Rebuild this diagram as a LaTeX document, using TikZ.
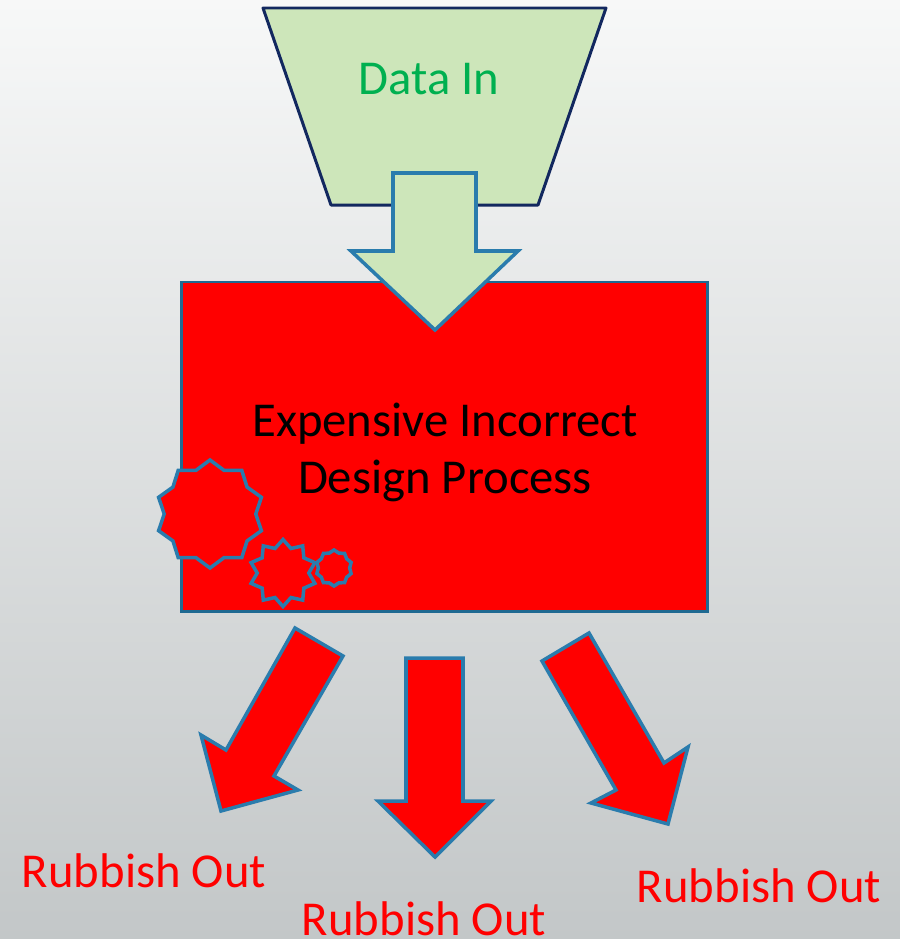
\documentclass[tikz,border=0pt]{standalone}
\usepackage{fontspec}
\setmainfont{Carlito}
\usepackage{tikz}
\usetikzlibrary{shapes.geometric}
\definecolor{leafgreen}{HTML}{CDE6BA}
\definecolor{navyline}{HTML}{12285F}
\definecolor{blueline}{HTML}{2A7CAD}
\definecolor{boxline}{HTML}{1F6A92}
\definecolor{datagreen}{HTML}{00B050}
\definecolor{backtop}{HTML}{F7F8F8}
\definecolor{backmid}{HTML}{EDEEEE}
\definecolor{backlow}{HTML}{C3C7C8}
\tikzset{
  blockarrow/.style={draw=blueline, line width=1pt, miter limit=10},
  gear/.style={star, star points=10, draw=blueline, fill=red, line width=1pt, inner sep=0pt, outer sep=0pt},
  bigtext/.style={font=\fontsize{13.85}{16.2}\selectfont, anchor=base, inner sep=0pt}
}
\begin{document}
\begin{tikzpicture}[x=0.01cm, y=-0.01cm]
  \useasboundingbox (0,0) rectangle (900,939);
  \shade[top color=backtop, middle color=backmid, bottom color=backlow] (0,0) rectangle (900,939);

  \draw[navyline, line width=0.85pt, fill=leafgreen, line join=round] (263,8)--(606,8)--(538,205)--(331,205)--cycle;
  \node[bigtext, datagreen] (datain) at (429,94) {Data In};

  \node[draw=boxline, line width=0.8pt, fill=red, minimum width=5.25cm, minimum height=3.29cm, inner sep=0pt] (design) at (444.5,446.5) {};
  \node[font=\fontsize{13.85}{16.2}\selectfont, align=center, text=black] (designtext) at (445,452) {Expensive Incorrect\\Design Process};

  \draw[blockarrow, fill=leafgreen] (393,173)--(476,173)--(476,251)--(518,251)--(435,330)--(351,251)--(393,251)--cycle;

  \node[gear, minimum size=1.08cm, star point ratio=1.18] (gearbig) at (210,514) {};
  \node[gear, minimum size=0.67cm, star point ratio=1.3] (gearmid) at (283,573) {};
  \node[gear, minimum size=0.36cm, star point ratio=1.15] (gearsmall) at (334,568) {};

  \draw[blockarrow, fill=red] (295,628)--(343,656)--(274,776)--(298,790)--(221,811)--(201,735)--(226,750)--cycle;
  \draw[blockarrow, fill=red] (406,658)--(463,658)--(463,801)--(491,801)--(435,857)--(378,801)--(406,801)--cycle;
  \draw[blockarrow, fill=red] (589,633)--(542,661)--(616,790)--(591,803)--(668,824)--(688,747)--(664,763)--cycle;

  \node[bigtext, red] (outleft) at (144,887) {Rubbish Out};
  \node[bigtext, red] (outmid) at (424,935) {Rubbish Out};
  \node[bigtext, red] (outright) at (759,902) {Rubbish Out};
\end{tikzpicture}
\end{document}
